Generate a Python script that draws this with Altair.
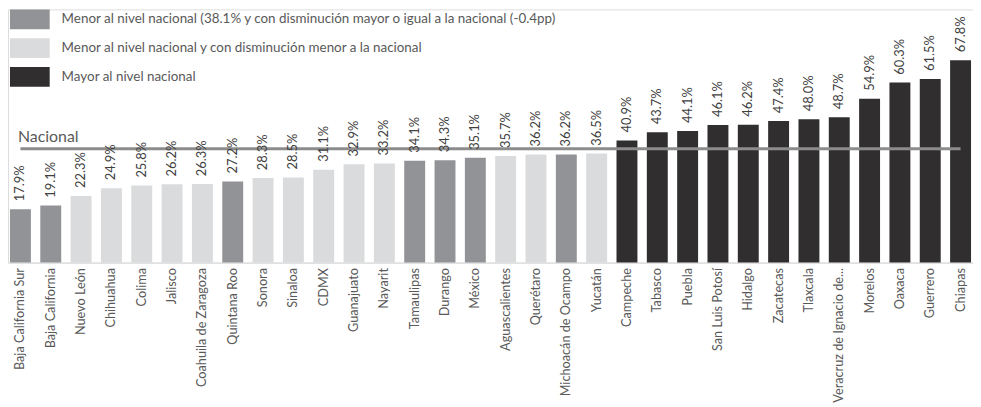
import altair as alt
import pandas as pd

estados = [
    "Baja California Sur", "Baja California", "Nuevo León", "Chihuahua", "Colima",
    "Jalisco", "Coahuila de Zaragoza", "Quintana Roo", "Sonora", "Sinaloa", "CDMX",
    "Guanajuato", "Nayarit", "Tamaulipas", "Durango", "México", "Aguascalientes",
    "Querétaro", "Michoacán de Ocampo", "Yucatán", "Campeche", "Tabasco", "Puebla",
    "San Luis Potosí", "Hidalgo", "Zacatecas", "Tlaxcala", "Veracruz de Ignacio de...",
    "Morelos", "Oaxaca", "Guerrero", "Chiapas",
]
valores = [
    17.9, 19.1, 22.3, 24.9, 25.8, 26.2, 26.3, 27.2, 28.3, 28.5, 31.1,
    32.9, 33.2, 34.1, 34.3, 35.1, 35.7, 36.2, 36.2, 36.5, 40.9, 43.7, 44.1,
    46.1, 46.2, 47.4, 48.0, 48.7, 54.9, 60.3, 61.5, 67.8,
]
grupo_idx = [
    0, 0, 1, 1, 1, 1, 1, 0, 1, 1, 1,
    1, 1, 0, 0, 0, 1, 1, 0, 1, 2, 2, 2,
    2, 2, 2, 2, 2, 2, 2, 2, 2,
]
grupos = [
    "Menor al nivel nacional (38.1% y con disminución mayor o igual a la nacional (-0.4pp)",
    "Menor al nivel nacional y con disminución menor a la nacional",
    "Mayor al nivel nacional",
]
colores = ["#929396", "#dadbdc", "#302e2f"]
nacional_valor = 38.1
nacional_texto = "Nacional"

df = pd.DataFrame({
    "estado": estados,
    "valor": valores,
    "grupo": [grupos[g] for g in grupo_idx],
    "etiqueta": [f"{v:.1f}%" for v in valores],
})
df_nac = pd.DataFrame({
    "estado": [estados[0], estados[-1]],
    "y": [nacional_valor, nacional_valor],
    "t": [nacional_texto, ""],
})

FONT = "Lato"
YSCALE = alt.Scale(domain=[0, 84.8], nice=False, zero=True)

x = alt.X(
    "estado:N", sort=estados,
    scale=alt.Scale(paddingInner=0.31, paddingOuter=0.065),
    axis=alt.Axis(
        title=None, labelAngle=270, labelFont=FONT, labelFontSize=12.8,
        labelColor="#595959", ticks=False, labelPadding=5,
        domainColor="#d9d9d9", domainWidth=1, labelLimit=200,
    ),
)
y = alt.Y("valor:Q", scale=YSCALE, axis=None)

bars = alt.Chart(df).mark_bar().encode(
    x=x, y=y,
    color=alt.Color(
        "grupo:N",
        scale=alt.Scale(domain=grupos, range=colores),
        legend=alt.Legend(
            title=None, orient="none", legendX=12, legendY=0,
            symbolType="M-2,-1H2V1H-2Z", symbolSize=400, symbolStrokeWidth=0,
            symbolOpacity=1, labelFont=FONT, labelFontSize=13.5, labelColor="#595959",
            labelOffset=22, rowPadding=9, labelLimit=800,
        ),
    ),
)

labels = alt.Chart(df).mark_text(
    angle=270, align="left", baseline="middle", dx=8,
    font=FONT, fontSize=13, color="#404040",
).encode(x=x, y=y, text="etiqueta:N")

line = alt.Chart(df_nac).mark_line(color="#8c8c8c", strokeWidth=3, strokeCap="butt").encode(
    x=alt.X("estado:N", sort=estados),
    y=alt.Y("y:Q", scale=YSCALE, axis=None),
)
nac_text = alt.Chart(df_nac.iloc[[0]]).mark_text(
    align="left", baseline="bottom", dy=-4, font=FONT, fontSize=16, color="#595959",
).encode(
    y=alt.Y("y:Q", scale=YSCALE, axis=None),
    x=alt.value(10), text="t:N",
)

chart = alt.layer(bars, line, labels, nac_text).properties(
    width=972, height=255
).configure_view(stroke=None).configure(padding=0)

chart.save("out.html", embed_options={"renderer": "svg", "actions": False})
